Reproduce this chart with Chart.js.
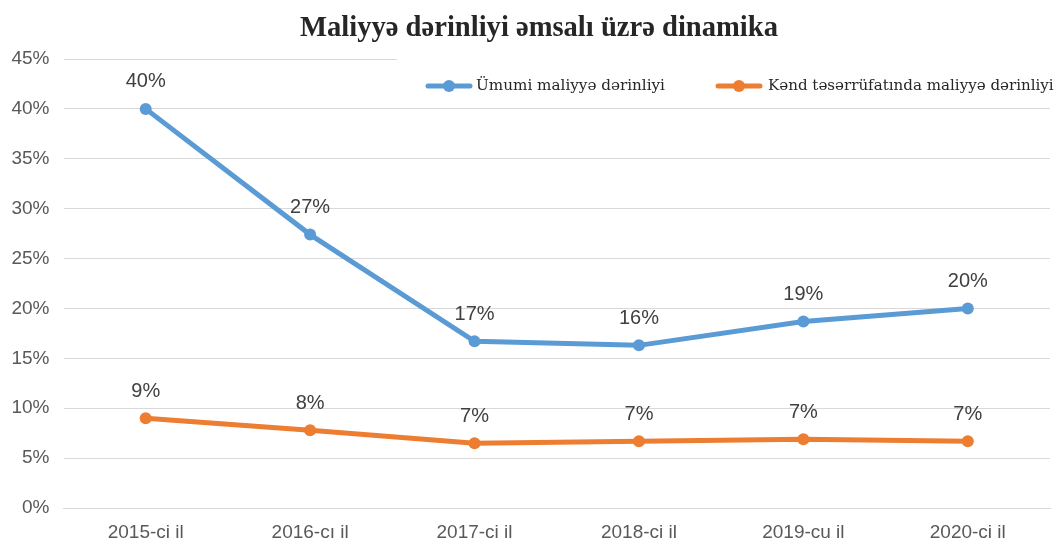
<!DOCTYPE html>
<html>
<head>
<meta charset="utf-8">
<script src="https://cdn.jsdelivr.net/npm/chart.js@4.4.1/dist/chart.umd.min.js"></script>
<style>
html,body{margin:0;padding:0;background:#fff;}
#wrap{width:1056px;height:540px;position:relative;}
</style>
</head>
<body>
<div id="wrap"><canvas id="c" width="1056" height="540"></canvas></div>
<script>
const chartTitle = "Maliyyə dərinliyi əmsalı üzrə dinamika";
const categories = ["2015-ci il", "2016-cı il", "2017-ci il", "2018-ci il", "2019-cu il", "2020-ci il"];
const seriesNames = ["Ümumi maliyyə dərinliyi", "Kənd təsərrüfatında maliyyə dərinliyi"];
const generalDepth = [40.0, 27.4, 16.7, 16.3, 18.7, 20.0];
const agriDepth = [9.0, 7.8, 6.5, 6.7, 6.9, 6.7];
const yTicks = [0, 5, 10, 15, 20, 25, 30, 35, 40, 45];
const colors = ["#5b9bd5", "#ed7d31"];

function fitFont(ctx, text, weight, family, target) {
  ctx.font = weight + ' 20px ' + family;
  const w = ctx.measureText(text).width;
  const size = 20 * target / w;
  ctx.font = weight + ' ' + size.toFixed(2) + 'px ' + family;
}

const labelPlugin = {
  id: 'labels',
  afterDatasetsDraw(chart) {
    const ctx = chart.ctx;
    ctx.save();
    ctx.font = '20px "Liberation Sans", Arial, sans-serif';
    ctx.fillStyle = '#404040';
    ctx.textAlign = 'center';
    ctx.textBaseline = 'middle';
    chart.data.datasets.forEach((ds, i) => {
      const meta = chart.getDatasetMeta(i);
      meta.data.forEach((pt, j) => {
        ctx.fillText(Math.round(ds.data[j]) + '%', pt.x, pt.y - 27);
      });
    });
    ctx.restore();
  },
  afterDraw(chart) {
    const ctx = chart.ctx;
    ctx.save();
    // title
    fitFont(ctx, chartTitle, 'bold', '"Liberation Serif", "DejaVu Serif", serif', 478);
    ctx.fillStyle = '#262626';
    ctx.textAlign = 'center';
    ctx.textBaseline = 'alphabetic';
    ctx.fillText(chartTitle, 539, 36);
    // legend box (covers top gridline)
    ctx.fillStyle = '#fff';
    ctx.fillRect(397, 54, 659, 50);
    const serif = '"DejaVu Serif", "Liberation Serif", serif';
    const items = [{x: 428, tx: 476, w: 189}, {x: 718, tx: 768, w: 286}];
    ctx.textAlign = 'left';
    ctx.textBaseline = 'middle';
    items.forEach((it, i) => {
      const y = 86;
      ctx.strokeStyle = colors[i];
      ctx.lineWidth = 5;
      ctx.lineCap = 'round';
      ctx.beginPath();
      ctx.moveTo(it.x, y);
      ctx.lineTo(it.x + 42, y);
      ctx.stroke();
      ctx.fillStyle = colors[i];
      ctx.beginPath();
      ctx.arc(it.x + 21, y, 6, 0, Math.PI * 2);
      ctx.fill();
      ctx.fillStyle = '#262626';
      fitFont(ctx, seriesNames[i], 'normal', serif, it.w);
      ctx.fillText(seriesNames[i], it.tx, y);
    });
    ctx.restore();
  }
};

new Chart(document.getElementById('c'), {
  type: 'line',
  data: {
    labels: categories,
    datasets: [
      {label: seriesNames[0], data: generalDepth, borderColor: colors[0], backgroundColor: colors[0], borderWidth: 5, pointRadius: 6, pointBackgroundColor: colors[0], pointBorderWidth: 0, tension: 0},
      {label: seriesNames[1], data: agriDepth, borderColor: colors[1], backgroundColor: colors[1], borderWidth: 5, pointRadius: 6, pointBackgroundColor: colors[1], pointBorderWidth: 0, tension: 0}
    ]
  },
  options: {
    responsive: false,
    animation: false,
    layout: {padding: {top: 59, right: 2.5, left: 0, bottom: 0}},
    plugins: {legend: {display: false}, title: {display: false}, tooltip: {enabled: false}},
    scales: {
      x: {
        offset: true,
        grid: {display: false, drawTicks: false},
        border: {display: true, color: '#d9d9d9', width: 1},
        ticks: {color: '#595959', font: {family: '"Liberation Sans", Arial, sans-serif', size: 19}, padding: 13, maxRotation: 0},
        afterFit(s) { s.height = 32; }
      },
      y: {
        min: 0, max: 45,
        afterBuildTicks(s) { s.ticks = yTicks.map(v => ({value: v})); },
        grid: {color: '#d9d9d9', lineWidth: 1, drawTicks: false},
        border: {display: false},
        ticks: {color: '#595959', font: {family: '"Liberation Sans", Arial, sans-serif', size: 19}, padding: 14, callback: v => v + '%'},
        afterFit(s) { s.width = 63.5; }
      }
    }
  },
  plugins: [labelPlugin]
});
</script>
</body>
</html>
